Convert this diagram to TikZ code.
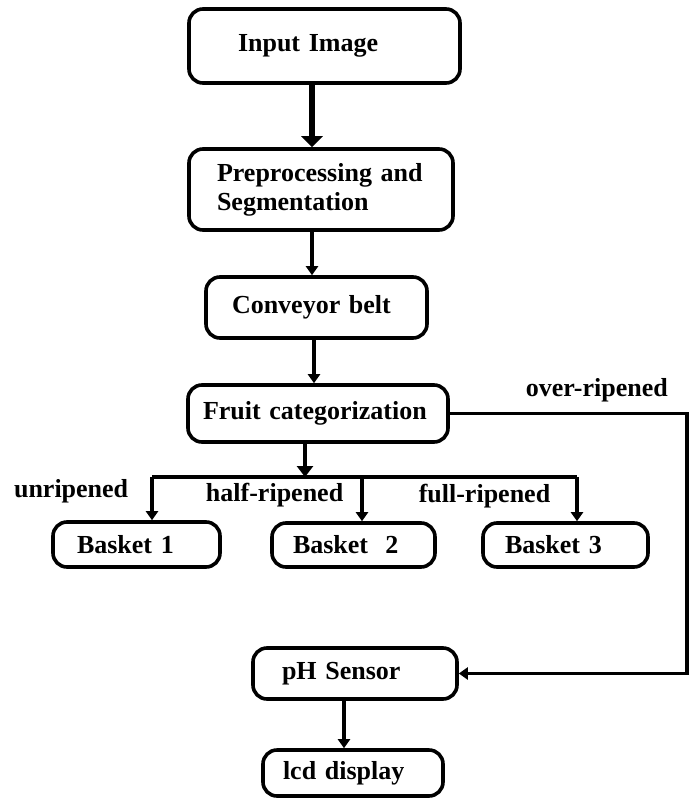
\documentclass[tikz,border=0pt]{standalone}
\usepackage{fontspec}
\setmainfont{Liberation Serif}
\usetikzlibrary{arrows.meta}

\begin{document}
\begin{tikzpicture}[x=1pt, y=-1pt, ->, >={Triangle[length=9pt,width=12pt]}, line width=3.6pt,
    font=\fontsize{26}{29}\selectfont\bfseries,
    block/.style={draw, rounded corners=14pt, align=left, inner ysep=0pt},
    lbl/.style={inner sep=0pt}]

      \useasboundingbox (0,0) rectangle (691,798);

      \node[block, text width=173pt, inner xsep=49pt, minimum height=74pt] (input) at (324.5,46)  {Input Image};
      \node[block, text width=208pt, inner xsep=28pt, minimum height=81pt] (prep)  at (321,189.5) {Preprocessing and\\Segmentation};
      \node[block, text width=169pt, inner xsep=26pt, minimum height=61pt] (conv)  at (316.5,307.5) {Conveyor belt};
      \node[block, text width=230pt, inner xsep=15pt, minimum height=57pt] (fruit) at (318,413.5) {Fruit categorization};
      \node[block, text width=119pt, inner xsep=24pt, minimum height=45pt] (b1)    at (136.5,544.5) {Basket 1};
      \node[block, text width=121pt, inner xsep=21pt, minimum height=44pt] (b2)    at (353.5,545) {Basket\ \ 2};
      \node[block, text width=121pt, inner xsep=22pt, minimum height=44pt] (b3)    at (565.5,545) {Basket 3};
      \node[block, text width=146pt, inner xsep=29pt, minimum height=51pt] (ph)    at (355,673.5) {pH Sensor};
      \node[block, text width=140pt, inner xsep=20pt, minimum height=46pt] (lcd)   at (353,773)   {lcd display};

      % columns and corners of the connectors
      \coordinate (col1)  at (312,0);
      \coordinate (col2)  at (314,0);
      \coordinate (col3)  at (344,0);
      \coordinate (split) at (305,477);
      \coordinate (left)  at (152,477);
      \coordinate (mid)   at (362,477);
      \coordinate (right) at (577,477);
      \coordinate (edge)  at (687,545);

      \draw[line width=6pt, >={Triangle[length=11pt,width=21pt]}] (input.south -| col1) -- (prep.north -| col1);
      \draw (prep.south -| col1) -- (conv.north -| col1);
      \draw (conv.south -| col2) -- (fruit.north -| col2);
      \draw[>={Triangle[length=11pt,width=16pt]}] (fruit.south -| split) -- (split);
      \draw[-] (left) -- (right);
      \draw (left)  -- node[lbl, pos=0.33, left=22pt] {unripened}    (b1.north -| left);
      \draw (mid)   -- node[lbl, pos=0.41, left=17pt] {half-ripened} (b2.north -| mid);
      \draw (right) -- node[lbl, pos=0.43, left=25pt] {full-ripened} (b3.north -| right);
      \draw (fruit.east) -| node[lbl, pos=0.31, above=10pt] {over-ripened} (edge) |- (ph.east);
      \draw (ph.south -| col3) -- (lcd.north -| col3);
\end{tikzpicture}
\end{document}
